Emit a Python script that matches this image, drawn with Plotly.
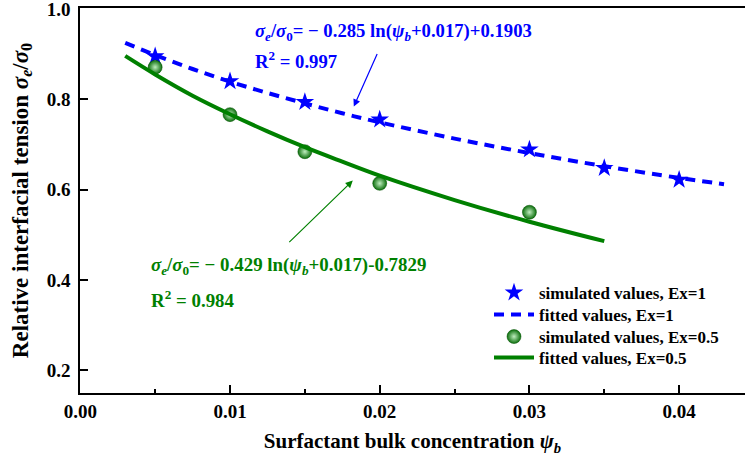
import plotly.graph_objects as go

# Simulated values, Ex = 1 (stars)
sim1_x = [0.005, 0.010, 0.015, 0.020, 0.030, 0.035, 0.040]
sim1_y = [0.895, 0.840, 0.794, 0.755, 0.689, 0.648, 0.622]

# Fitted curve, Ex = 1 (dashed)
fit1_x = [0.003, 0.005, 0.0075, 0.010, 0.0125, 0.015, 0.0175, 0.020, 0.025, 0.030, 0.035, 0.040, 0.043]
fit1_y = [0.925, 0.898, 0.867, 0.839, 0.814, 0.791, 0.769, 0.749, 0.713, 0.681, 0.652, 0.626, 0.612]

# Simulated values, Ex = 0.5 (balls)
sim2_x = [0.005, 0.010, 0.015, 0.020, 0.030]
sim2_y = [0.871, 0.766, 0.684, 0.614, 0.550]

# Fitted curve, Ex = 0.5 (solid)
fit2_x = [0.003, 0.005, 0.0075, 0.010, 0.0125, 0.015, 0.0175, 0.020, 0.025, 0.030, 0.035]
fit2_y = [0.896, 0.855, 0.808, 0.767, 0.729, 0.694, 0.662, 0.631, 0.577, 0.529, 0.486]

x_ticks = [0.00, 0.01, 0.02, 0.03, 0.04]
y_ticks = [0.2, 0.4, 0.6, 0.8, 1.0]

BLUE = "#0000FF"
GREEN = "#008000"
FONT = "Liberation Serif"

fig = go.Figure()
fig.add_trace(go.Scatter(
    x=sim1_x, y=sim1_y, mode="markers", name="simulated values, Ex=1", legend="legend",
    marker=dict(symbol="star", size=14, color=BLUE, line=dict(width=0)),
))
fig.add_trace(go.Scatter(
    x=fit1_x, y=fit1_y, mode="lines", name="fitted values, Ex=1", legend="legend2",
    line=dict(color=BLUE, width=4, dash="10px,7px", shape="spline"),
))
fig.add_trace(go.Scatter(
    x=sim2_x, y=sim2_y, mode="markers", name="simulated values, Ex=0.5", legend="legend3",
    marker=dict(symbol="circle", size=14, color="#0b6e0b",
                gradient=dict(type="radial", color="#bfeebf"),
                line=dict(width=0.5, color="#005000")),
))
fig.add_trace(go.Scatter(
    x=fit2_x, y=fit2_y, mode="lines", name="fitted values, Ex=0.5", legend="legend4",
    line=dict(color=GREEN, width=4, shape="spline"),
))

tickfont = dict(family=FONT, size=19, color="black", weight="bold")
xtitlefont = dict(family=FONT, size=21, color="black", weight="bold")
ytitlefont = dict(family=FONT, size=23, color="black", weight="bold")
legfont = dict(family=FONT, size=17, color="black", weight="bold")

L, T, B, W, H = 80, 8, 74, 745, 467
PW, PH = W - L, H - T - B


def leg(ypix):
    return dict(
        x=(489 - L) / PW, y=(H - B - ypix) / PH, xanchor="left", yanchor="middle",
        bgcolor="rgba(0,0,0,0)", borderwidth=0, font=legfont, itemwidth=40,
    )


fig.update_layout(
    width=W, height=H,
    margin=dict(l=L, r=0, t=T, b=B, autoexpand=False),
    paper_bgcolor="white", plot_bgcolor="white",
    font=dict(family=FONT, color="black"),
    showlegend=True,
    legend=leg(293), legend2=leg(315), legend3=leg(337), legend4=leg(358),
    xaxis=dict(
        range=[-0.00002, 0.0444], automargin=False,
        tickvals=x_ticks, tickformat=".2f",
        ticks="inside", ticklen=8, tickwidth=1.5, tickcolor="black",
        minor=dict(ticks="inside", ticklen=4, tickwidth=1.5, dtick=0.005, tick0=0, tickcolor="black"),
        showline=True, linecolor="black", linewidth=1.5, mirror=True,
        showgrid=False, zeroline=False,
        tickfont=tickfont,
        title=dict(text="Surfactant bulk concentration <i>ψ<sub>b</sub></i>", font=xtitlefont, standoff=13),
    ),
    yaxis=dict(
        range=[0.15, 1.002], automargin=False,
        tickvals=y_ticks, tickformat=".1f",
        ticks="inside", ticklen=8, tickwidth=1.5, tickcolor="black",
        showline=True, linecolor="black", linewidth=1.5, mirror=False,
        showgrid=False, zeroline=False,
        tickfont=tickfont, ticklabelstandoff=4, ticklabeloverflow="allow",
        title=dict(text="Relative interfacial tension <i>σ<sub>e</sub></i>/<i>σ</i><sub>0</sub>", font=ytitlefont, standoff=12),
    ),
)

annfont_b = dict(family=FONT, size=18.7, color=BLUE, weight="bold")
annfont_g = dict(family=FONT, size=18.9, color=GREEN, weight="bold")

fig.add_annotation(
    x=0.01153, y=0.950, xref="x", yref="y", xanchor="left", yanchor="middle",
    text="<i>σ<sub>e</sub></i>/<i>σ</i><sub>0</sub>= − 0.285 ln(<i>ψ<sub>b</sub></i>+0.017)+0.1903",
    showarrow=False, font=annfont_b,
)
fig.add_annotation(
    x=0.01153, y=0.886, xref="x", yref="y", xanchor="left", yanchor="middle",
    text="R<sup>2</sup> = 0.997", showarrow=False, font=annfont_b,
)
fig.add_annotation(
    x=0.01827, y=0.784, xref="x", yref="y", ax=24, ay=-54,
    text="", showarrow=True, arrowhead=2, arrowsize=1.2, arrowwidth=1.2, arrowcolor=BLUE,
)
fig.add_annotation(
    x=0.0046, y=0.432, xref="x", yref="y", xanchor="left", yanchor="middle",
    text="<i>σ<sub>e</sub></i>/<i>σ</i><sub>0</sub>= − 0.429 ln(<i>ψ<sub>b</sub></i>+0.017)-0.7829",
    showarrow=False, font=annfont_g,
)
fig.add_annotation(
    x=0.0046, y=0.359, xref="x", yref="y", xanchor="left", yanchor="middle",
    text="R<sup>2</sup> = 0.984", showarrow=False, font=annfont_g,
)
fig.add_annotation(
    x=0.0182, y=0.620, xref="x", yref="y", ax=-65, ay=63,
    text="", showarrow=True, arrowhead=2, arrowsize=1.2, arrowwidth=1.2, arrowcolor=GREEN,
)

fig.write_html(
    "out.html",
    config={"displayModeBar": False},
    post_script="document.body.style.margin='0';document.body.style.overflow='hidden';",
)
